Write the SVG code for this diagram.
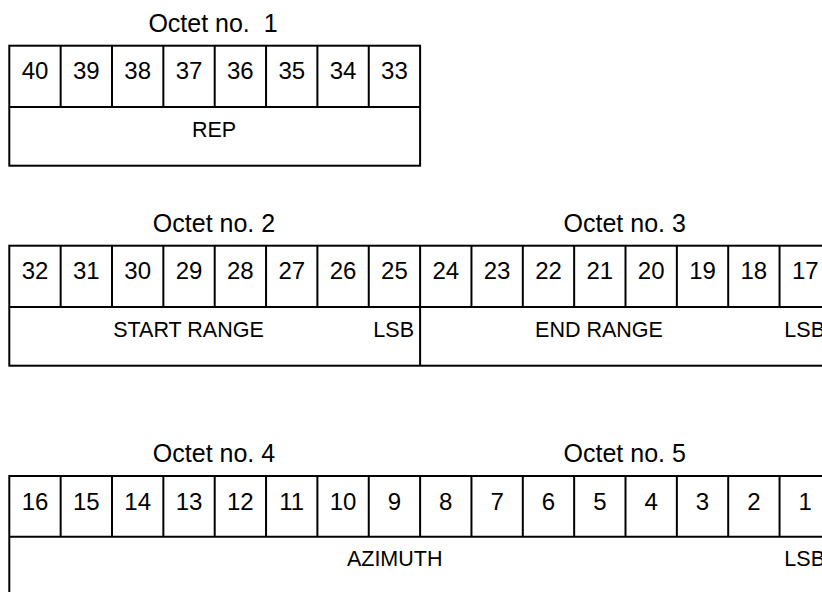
<svg xmlns="http://www.w3.org/2000/svg" width="822" height="592" viewBox="0 0 822 592">
<style>
  .box { fill: #ffffff; stroke: #000000; stroke-width: 2; }
  .ln { stroke: #000000; stroke-width: 2; fill: none; }
  .oct { font-family: "Liberation Sans", Arial, sans-serif; font-size: 25px; fill: #000000; text-anchor: middle; }
  .num { font-family: "Liberation Sans", Arial, sans-serif; font-size: 24px; fill: #000000; text-anchor: middle; }
  .lbl { font-family: "Liberation Sans", Arial, sans-serif; font-size: 21.5px; fill: #000000; text-anchor: middle; }
  .lsb { font-family: "Liberation Sans", Arial, sans-serif; font-size: 21.5px; fill: #000000; text-anchor: end; }
</style>
<rect x="0" y="0" width="822" height="592" fill="#ffffff"/>

<!-- Octet 1 -->
<g id="octet1">
  <text class="oct" x="213" y="31.7" xml:space="preserve">Octet no.  1</text>
  <rect class="box" x="9.3" y="45.7" width="410.8" height="120"/>
  <line class="ln" x1="9.3" y1="107" x2="420.1" y2="107"/>
  <line class="ln" x1="60.65" y1="45.7" x2="60.65" y2="107"/>
  <line class="ln" x1="112" y1="45.7" x2="112" y2="107"/>
  <line class="ln" x1="163.35" y1="45.7" x2="163.35" y2="107"/>
  <line class="ln" x1="214.7" y1="45.7" x2="214.7" y2="107"/>
  <line class="ln" x1="266.05" y1="45.7" x2="266.05" y2="107"/>
  <line class="ln" x1="317.4" y1="45.7" x2="317.4" y2="107"/>
  <line class="ln" x1="368.75" y1="45.7" x2="368.75" y2="107"/>
  <text class="num" x="34.98" y="79.3">40</text>
  <text class="num" x="86.33" y="79.3">39</text>
  <text class="num" x="137.68" y="79.3">38</text>
  <text class="num" x="189.03" y="79.3">37</text>
  <text class="num" x="240.38" y="79.3">36</text>
  <text class="num" x="291.73" y="79.3">35</text>
  <text class="num" x="343.08" y="79.3">34</text>
  <text class="num" x="394.43" y="79.3">33</text>
</g>
<g id="field-rep">
  <text class="lbl" x="214" y="136.7">REP</text>
</g>

<!-- Octets 2 and 3 -->
<g id="octet2-3">
  <text class="oct" x="214" y="231.7">Octet no. 2</text>
  <text class="oct" x="624.7" y="231.7">Octet no. 3</text>
  <rect class="box" x="9.3" y="245.7" width="821.6" height="120"/>
  <line class="ln" x1="9.3" y1="307" x2="830.9" y2="307"/>
  <line class="ln" x1="420.1" y1="245.7" x2="420.1" y2="365.7"/>
  <line class="ln" x1="60.65" y1="245.7" x2="60.65" y2="307"/>
  <line class="ln" x1="112" y1="245.7" x2="112" y2="307"/>
  <line class="ln" x1="163.35" y1="245.7" x2="163.35" y2="307"/>
  <line class="ln" x1="214.7" y1="245.7" x2="214.7" y2="307"/>
  <line class="ln" x1="266.05" y1="245.7" x2="266.05" y2="307"/>
  <line class="ln" x1="317.4" y1="245.7" x2="317.4" y2="307"/>
  <line class="ln" x1="368.75" y1="245.7" x2="368.75" y2="307"/>
  <line class="ln" x1="471.45" y1="245.7" x2="471.45" y2="307"/>
  <line class="ln" x1="522.8" y1="245.7" x2="522.8" y2="307"/>
  <line class="ln" x1="574.15" y1="245.7" x2="574.15" y2="307"/>
  <line class="ln" x1="625.5" y1="245.7" x2="625.5" y2="307"/>
  <line class="ln" x1="676.85" y1="245.7" x2="676.85" y2="307"/>
  <line class="ln" x1="728.2" y1="245.7" x2="728.2" y2="307"/>
  <line class="ln" x1="779.55" y1="245.7" x2="779.55" y2="307"/>
  <text class="num" x="34.98" y="279.3">32</text>
  <text class="num" x="86.33" y="279.3">31</text>
  <text class="num" x="137.68" y="279.3">30</text>
  <text class="num" x="189.03" y="279.3">29</text>
  <text class="num" x="240.38" y="279.3">28</text>
  <text class="num" x="291.73" y="279.3">27</text>
  <text class="num" x="343.08" y="279.3">26</text>
  <text class="num" x="394.43" y="279.3">25</text>
  <text class="num" x="445.78" y="279.3">24</text>
  <text class="num" x="497.13" y="279.3">23</text>
  <text class="num" x="548.48" y="279.3">22</text>
  <text class="num" x="599.83" y="279.3">21</text>
  <text class="num" x="651.18" y="279.3">20</text>
  <text class="num" x="702.53" y="279.3">19</text>
  <text class="num" x="753.88" y="279.3">18</text>
  <text class="num" x="805.23" y="279.3">17</text>
</g>
<g id="field-start-range">
  <text class="lbl" x="188.5" y="336.7">START RANGE</text>
  <text class="lsb" x="414" y="336.7">LSB</text>
</g>
<g id="field-end-range">
  <text class="lbl" x="599" y="336.7">END RANGE</text>
  <text class="lsb" x="825" y="336.7">LSB</text>
</g>

<!-- Octets 4 and 5 -->
<g id="octet4-5">
  <text class="oct" x="214" y="461.7">Octet no. 4</text>
  <text class="oct" x="624.7" y="461.7">Octet no. 5</text>
  <rect class="box" x="9.3" y="476" width="821.6" height="130"/>
  <line class="ln" x1="9.3" y1="536.7" x2="830.9" y2="536.7"/>
  <line class="ln" x1="60.65" y1="476" x2="60.65" y2="536.7"/>
  <line class="ln" x1="112" y1="476" x2="112" y2="536.7"/>
  <line class="ln" x1="163.35" y1="476" x2="163.35" y2="536.7"/>
  <line class="ln" x1="214.7" y1="476" x2="214.7" y2="536.7"/>
  <line class="ln" x1="266.05" y1="476" x2="266.05" y2="536.7"/>
  <line class="ln" x1="317.4" y1="476" x2="317.4" y2="536.7"/>
  <line class="ln" x1="368.75" y1="476" x2="368.75" y2="536.7"/>
  <line class="ln" x1="420.1" y1="476" x2="420.1" y2="536.7"/>
  <line class="ln" x1="471.45" y1="476" x2="471.45" y2="536.7"/>
  <line class="ln" x1="522.8" y1="476" x2="522.8" y2="536.7"/>
  <line class="ln" x1="574.15" y1="476" x2="574.15" y2="536.7"/>
  <line class="ln" x1="625.5" y1="476" x2="625.5" y2="536.7"/>
  <line class="ln" x1="676.85" y1="476" x2="676.85" y2="536.7"/>
  <line class="ln" x1="728.2" y1="476" x2="728.2" y2="536.7"/>
  <line class="ln" x1="779.55" y1="476" x2="779.55" y2="536.7"/>
  <text class="num" x="34.98" y="509.6">16</text>
  <text class="num" x="86.33" y="509.6">15</text>
  <text class="num" x="137.68" y="509.6">14</text>
  <text class="num" x="189.03" y="509.6">13</text>
  <text class="num" x="240.38" y="509.6">12</text>
  <text class="num" x="291.73" y="509.6">11</text>
  <text class="num" x="343.08" y="509.6">10</text>
  <text class="num" x="394.43" y="509.6">9</text>
  <text class="num" x="445.78" y="509.6">8</text>
  <text class="num" x="497.13" y="509.6">7</text>
  <text class="num" x="548.48" y="509.6">6</text>
  <text class="num" x="599.83" y="509.6">5</text>
  <text class="num" x="651.18" y="509.6">4</text>
  <text class="num" x="702.53" y="509.6">3</text>
  <text class="num" x="753.88" y="509.6">2</text>
  <text class="num" x="805.23" y="509.6">1</text>
</g>
<g id="field-azimuth">
  <text class="lbl" x="394.7" y="565.7">AZIMUTH</text>
  <text class="lsb" x="825" y="565.7">LSB</text>
</g>

<g id="connectors"/>
</svg>
